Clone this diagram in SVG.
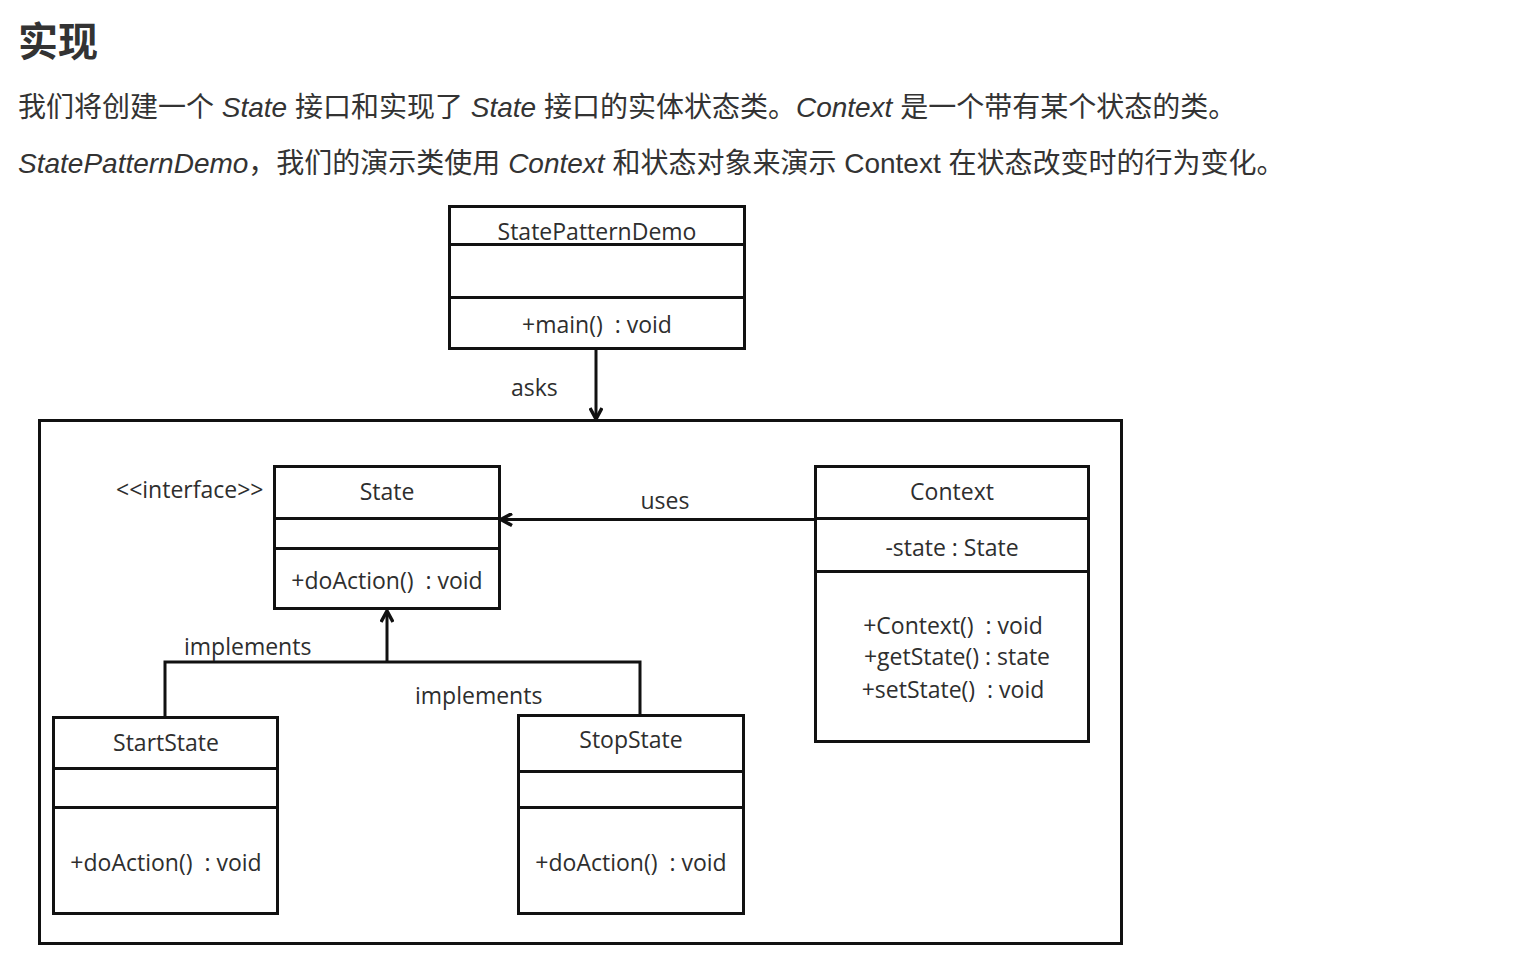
<svg xmlns="http://www.w3.org/2000/svg" width="1524" height="968" viewBox="0 0 1524 968">
<defs>
<style>
.h{font-family:"Liberation Sans","Noto Sans CJK SC",sans-serif;fill:#333}
.i{font-style:italic}
.box{fill:#fff;stroke:#111;stroke-width:3}
.div{stroke:#111;stroke-width:3}
.t{font-family:"Open Sans","DejaVu Sans",sans-serif;font-size:23px;fill:#2e2e2e;text-anchor:middle;white-space:pre}
.l{font-family:"Open Sans","DejaVu Sans",sans-serif;font-size:23px;fill:#2e2e2e;white-space:pre}
.c{fill:none;stroke:#111;stroke-width:3}
</style>
<marker id="open" viewBox="0 0 14 14" refX="13" refY="7" markerWidth="14" markerHeight="14" markerUnits="userSpaceOnUse" orient="auto">
<path d="M2,1 L13,7 L2,13" fill="none" stroke="#111" stroke-width="3.5"/>
</marker>
</defs>
<rect width="1524" height="968" fill="#fff"/>
<g id="header">
<text class="h" x="18" y="56" font-size="40" font-weight="bold">实现</text>
<text class="h" x="18" y="117" font-size="28">我们将创建一个 <tspan class="i">State</tspan> 接口和实现了 <tspan class="i">State</tspan> 接口的实体状态类。<tspan class="i">Context</tspan> 是一个带有某个状态的类。</text>
<text class="h" x="18" y="173" font-size="28"><tspan class="i">StatePatternDemo</tspan>，我们的演示类使用 <tspan class="i">Context</tspan> 和状态对象来演示 Context 在状态改变时的行为变化。</text>
</g>
<g id="frame">
<rect class="box" x="39.5" y="420.5" width="1082" height="523" fill="none"/>
</g>
<g id="connectors">
<line class="c" x1="596" y1="348" x2="596" y2="419" marker-end="url(#open)"/>
<text class="l" x="511" y="396">asks</text>
<line class="c" x1="815" y1="519.5" x2="501" y2="519.5" marker-end="url(#open)"/>
<text class="t" x="665" y="509">uses</text>
<polyline class="c" points="165,717 165,662 640,662 640,715"/>
<line class="c" x1="387" y1="662" x2="387" y2="611" marker-end="url(#open)"/>
<text class="l" x="184" y="655">implements</text>
<text class="l" x="415" y="704">implements</text>
</g>
<g id="StatePatternDemo">
<rect class="box" x="449.5" y="206.5" width="295" height="142"/>
<line class="div" x1="449" y1="244.5" x2="745" y2="244.5"/>
<line class="div" x1="449" y1="297.5" x2="745" y2="297.5"/>
<text class="t" x="597" y="240" font-size="24">StatePatternDemo</text>
<text class="t" x="597" y="333">+main()  : void</text>
</g>
<g id="State">
<text class="l" x="116" y="498">&lt;&lt;interface&gt;&gt;</text>
<rect class="box" x="274.5" y="466.5" width="225" height="142"/>
<line class="div" x1="274" y1="518.5" x2="500" y2="518.5"/>
<line class="div" x1="274" y1="548.5" x2="500" y2="548.5"/>
<text class="t" x="387" y="500">State</text>
<text class="t" x="387" y="589">+doAction()  : void</text>
</g>
<g id="Context">
<rect class="box" x="815.5" y="466.5" width="273" height="275"/>
<line class="div" x1="815" y1="518.5" x2="1089" y2="518.5"/>
<line class="div" x1="815" y1="571.5" x2="1089" y2="571.5"/>
<text class="t" x="952" y="500">Context</text>
<text class="t" x="952" y="556">-state : State</text>
<text class="t" x="953" y="634">+Context()  : void</text>
<text class="t" x="957" y="665" font-size="26">+getState() : state</text>
<text class="t" x="953" y="698">+setState()  : void</text>
</g>
<g id="StartState">
<rect class="box" x="53.5" y="717.5" width="224" height="196"/>
<line class="div" x1="53" y1="768.5" x2="278" y2="768.5"/>
<line class="div" x1="53" y1="807.5" x2="278" y2="807.5"/>
<text class="t" x="166" y="751">StartState</text>
<text class="t" x="166" y="871">+doAction()  : void</text>
</g>
<g id="StopState">
<rect class="box" x="518.5" y="715.5" width="225" height="198"/>
<line class="div" x1="518" y1="771.5" x2="744" y2="771.5"/>
<line class="div" x1="518" y1="807.5" x2="744" y2="807.5"/>
<text class="t" x="631" y="748">StopState</text>
<text class="t" x="631" y="871">+doAction()  : void</text>
</g>
</svg>
